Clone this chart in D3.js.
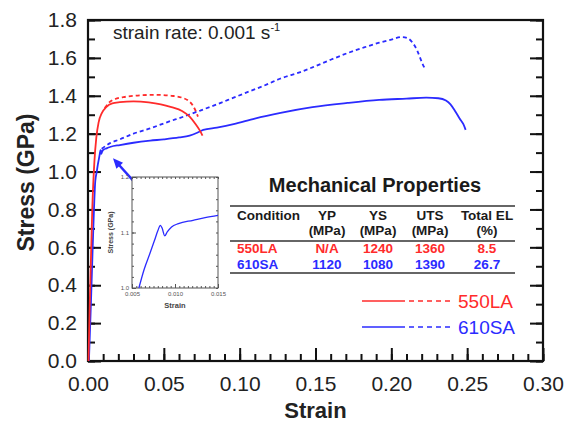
<!DOCTYPE html>
<html>
<head>
<meta charset="utf-8">
<script src="https://cdn.jsdelivr.net/npm/d3@7"></script>
<style>
  html, body { margin: 0; padding: 0; background: #fff; }
  svg text { font-family: "Liberation Sans", Arial, sans-serif; }
</style>
</head>
<body>
<div id="chart"></div>
<script>
// stress-strain curves, [strain, stress (GPa)]
const red550Solid = [
	[0.0003, 0], [0.0013, 0.35], [0.0028, 0.8], [0.0042, 1.05], [0.0055, 1.18], [0.007, 1.26],
	[0.0092, 1.31], [0.012, 1.34], [0.016, 1.36], [0.021, 1.366], [0.03, 1.37], [0.04, 1.365],
	[0.048, 1.355], [0.055, 1.34], [0.062, 1.32], [0.067, 1.29], [0.071, 1.25], [0.0735, 1.22], [0.0755, 1.19]
];
const red550Dash = [
	[0.011, 1.335], [0.014, 1.365], [0.018, 1.383], [0.025, 1.395], [0.035, 1.403], [0.045, 1.405],
	[0.055, 1.4], [0.062, 1.39], [0.066, 1.375], [0.069, 1.35], [0.071, 1.32], [0.0725, 1.29]
];
const blue610Solid = [
	[0.0006, 0], [0.002, 0.32], [0.0035, 0.7], [0.0048, 0.95], [0.0058, 1.0], [0.0064, 1.033],
	[0.0071, 1.063], [0.0076, 1.085], [0.008, 1.103], [0.0083, 1.113], [0.0085, 1.108],
	[0.0088, 1.094], [0.0091, 1.101], [0.0096, 1.11], [0.0104, 1.116], [0.0121, 1.122],
	[0.0135, 1.127], [0.015, 1.131], [0.021, 1.14], [0.03, 1.152], [0.041, 1.163], [0.05, 1.17],
	[0.06, 1.18], [0.067, 1.19], [0.072, 1.205], [0.076, 1.22], [0.085, 1.232], [0.096, 1.25],
	[0.11, 1.28], [0.127, 1.31], [0.148, 1.34], [0.171, 1.362], [0.192, 1.378], [0.21, 1.385],
	[0.223, 1.39], [0.231, 1.387], [0.236, 1.375], [0.239, 1.355], [0.242, 1.32], [0.245, 1.28],
	[0.2475, 1.25], [0.249, 1.22]
];
const blue610Dash = [
	[0.009, 1.12], [0.0145, 1.15], [0.021, 1.17], [0.03, 1.2], [0.041, 1.228], [0.052, 1.26],
	[0.063, 1.29], [0.074, 1.322], [0.085, 1.355], [0.096, 1.39], [0.107, 1.425], [0.118, 1.46],
	[0.1265, 1.49], [0.14, 1.525], [0.148, 1.55], [0.16, 1.59], [0.171, 1.625], [0.182, 1.655],
	[0.192, 1.68], [0.2, 1.697], [0.207, 1.71], [0.211, 1.703], [0.214, 1.68], [0.217, 1.64],
	[0.219, 1.6], [0.2205, 1.57], [0.222, 1.545]
];
// inset: zoom of 610SA yield point
const insetCurve = blue610Solid.filter(d => d[0] >= 0.0055 && d[0] <= 0.0151);

// main axes ticks
const xTicks = [0, 0.05, 0.1, 0.15, 0.2, 0.25, 0.3];
const yTicks = [0, 0.2, 0.4, 0.6, 0.8, 1.0, 1.2, 1.4, 1.6, 1.8];
const insetXTicks = [0.005, 0.01, 0.015];
const insetYTicks = [1.0, 1.1, 1.2];

// arrow pointing to the yield point (data coords)
const arrowFrom = [0.0345, 0.91];
const arrowTo = [0.0165, 1.07];

// table
const tableHead1 = ["Condition", "YP", "YS", "UTS", "Total EL"];
const tableHead2 = ["", "(MPa)", "(MPa)", "(MPa)", "(%)"];
const tableRows = [
	["550LA", "N/A", "1240", "1360", "8.5"],
	["610SA", "1120", "1080", "1390", "26.7"]
];
const legendNames = ["550LA", "610SA"];

(function () {
	const RED = "#ff2b2b";
	const BLUE = "#2b2bff";
	const width = 565, height = 424;
	const L = 88, R = 543, T = 20, B = 361;

	const svg = d3.select("#chart").append("svg")
		.attr("width", width).attr("height", height);

	const x = d3.scaleLinear().domain([0, 0.3]).range([L, R]);
	const y = d3.scaleLinear().domain([0, 1.8]).range([B, T]);

	// minor ticks
	const minorX = d3.range(0, 0.3001, 0.01);
	const minorY = d3.range(0, 1.8001, 0.1);
	svg.append("g").attr("transform", `translate(0,${B})`)
		.call(d3.axisBottom(x).tickValues(minorX).tickSize(-7).tickFormat(""))
		.call(g => g.select(".domain").remove());
	svg.append("g").attr("transform", `translate(${L},0)`)
		.call(d3.axisLeft(y).tickValues(minorY).tickSize(-7).tickFormat(""))
		.call(g => g.select(".domain").remove());
	svg.append("g").attr("transform", `translate(${R},0)`)
		.call(d3.axisRight(y).tickValues(minorY).tickSize(-7).tickFormat(""))
		.call(g => g.select(".domain").remove());

	// major ticks
	const xAxis = svg.append("g").attr("transform", `translate(0,${B})`)
		.call(d3.axisBottom(x).tickValues(xTicks).tickSize(-13).tickPadding(15).tickFormat(d3.format(".2f")));
	const yAxis = svg.append("g").attr("transform", `translate(${L},0)`)
		.call(d3.axisLeft(y).tickValues(yTicks).tickSize(-13).tickPadding(11).tickFormat(d3.format(".1f")));
	svg.append("g").attr("transform", `translate(${R},0)`)
		.call(d3.axisRight(y).tickValues(yTicks).tickSize(-13).tickFormat(""))
		.call(g => g.select(".domain").remove());
	[xAxis, yAxis].forEach(a => {
		a.select(".domain").remove();
		a.selectAll("text").style("font-size", "21px").style("fill", "#222");
	});
	svg.selectAll(".tick line").attr("stroke", "#111").attr("stroke-width", 2);

	// frame
	svg.append("rect").attr("x", L).attr("y", T).attr("width", R - L).attr("height", B - T)
		.attr("fill", "none").attr("stroke", "#111").attr("stroke-width", 2.2);

	// axis titles
	svg.append("text").attr("x", (L + R) / 2).attr("y", 418).attr("text-anchor", "middle")
		.style("font-size", "22px").style("font-weight", 700).style("fill", "#222").text("Strain");
	svg.append("text").attr("transform", `translate(34,${(T + B) / 2 - 8}) rotate(-90)`)
		.attr("text-anchor", "middle")
		.style("font-size", "23px").style("font-weight", 700).style("fill", "#222").text("Stress (GPa)");

	// strain rate note
	const note = svg.append("text").attr("x", 113).attr("y", 39)
		.style("font-size", "19px").style("fill", "#222");
	note.append("tspan").text("strain rate: 0.001 s");
	note.append("tspan").attr("dy", -8).style("font-size", "11px").text("-1");

	// curves
	const line = d3.line().x(d => x(d[0])).y(d => y(d[1])).curve(d3.curveMonotoneX);
	const curves = [
		{ data: red550Dash, color: RED, dash: "4,3" },
		{ data: blue610Dash, color: BLUE, dash: "4,3" },
		{ data: blue610Solid, color: BLUE, dash: null },
		{ data: red550Solid, color: RED, dash: null }
	];
	curves.forEach(c => {
		svg.append("path").datum(c.data).attr("d", line)
			.attr("fill", "none").attr("stroke", c.color).attr("stroke-width", 1.8)
			.attr("stroke-dasharray", c.dash);
	});

	// arrow
	const ax0 = x(arrowFrom[0]), ay0 = y(arrowFrom[1]);
	const ax1 = x(arrowTo[0]), ay1 = y(arrowTo[1]);
	const ang = Math.atan2(ay1 - ay0, ax1 - ax0);
	const hl = 10, hw = 4.5;
	svg.append("line").attr("x1", ax0).attr("y1", ay0)
		.attr("x2", ax1 - Math.cos(ang) * hl * 0.8).attr("y2", ay1 - Math.sin(ang) * hl * 0.8)
		.attr("stroke", BLUE).attr("stroke-width", 2.5);
	const bx = ax1 - Math.cos(ang) * hl, by = ay1 - Math.sin(ang) * hl;
	svg.append("path")
		.attr("d", `M${ax1},${ay1}L${bx - Math.sin(ang) * hw},${by + Math.cos(ang) * hw}L${bx + Math.sin(ang) * hw},${by - Math.cos(ang) * hw}Z`)
		.attr("fill", BLUE);

	// inset
	const iL = 132, iR = 218, iT = 177, iB = 288;
	const ix = d3.scaleLinear().domain([0.005, 0.015]).range([iL, iR]);
	const iy = d3.scaleLinear().domain([1.0, 1.2]).range([iB, iT]);
	const inset = svg.append("g");
	inset.append("rect").attr("x", iL).attr("y", iT).attr("width", iR - iL).attr("height", iB - iT)
		.attr("fill", "#fff").attr("stroke", "#555").attr("stroke-width", 1);
	const iMinX = d3.range(0.005, 0.01501, 0.0005);
	const iMinY = d3.range(1.0, 1.2001, 0.02);
	const smallAxis = (g, axis) => g.call(axis).call(s => s.select(".domain").remove())
		.call(s => s.selectAll("line").attr("stroke", "#555"));
	smallAxis(inset.append("g").attr("transform", `translate(0,${iB})`),
		d3.axisBottom(ix).tickValues(iMinX).tickSize(-2).tickFormat(""));
	smallAxis(inset.append("g").attr("transform", `translate(0,${iT})`),
		d3.axisTop(ix).tickValues(iMinX).tickSize(-2).tickFormat(""));
	smallAxis(inset.append("g").attr("transform", `translate(${iL},0)`),
		d3.axisLeft(iy).tickValues(iMinY).tickSize(-2).tickFormat(""));
	smallAxis(inset.append("g").attr("transform", `translate(${iR},0)`),
		d3.axisRight(iy).tickValues(iMinY).tickSize(-2).tickFormat(""));
	const ixAxis = inset.append("g").attr("transform", `translate(0,${iB})`)
		.call(d3.axisBottom(ix).tickValues(insetXTicks).tickSize(-4).tickPadding(4).tickFormat(d3.format(".3f")));
	const iyAxis = inset.append("g").attr("transform", `translate(${iL},0)`)
		.call(d3.axisLeft(iy).tickValues(insetYTicks).tickSize(-4).tickPadding(3).tickFormat(d3.format(".1f")));
	[ixAxis, iyAxis].forEach(a => {
		a.select(".domain").remove();
		a.selectAll("line").attr("stroke", "#555");
		a.selectAll("text").style("font-size", "6px").style("fill", "#555");
	});
	inset.append("text").attr("x", (iL + iR) / 2).attr("y", 308).attr("text-anchor", "middle")
		.style("font-size", "7.5px").style("font-weight", 700).style("fill", "#444").text("Strain");
	inset.append("text").attr("transform", `translate(113,${(iT + iB) / 2}) rotate(-90)`)
		.attr("text-anchor", "middle")
		.style("font-size", "7px").style("font-weight", 700).style("fill", "#444").text("Stress (GPa)");
	const iline = d3.line().x(d => ix(d[0])).y(d => iy(d[1])).curve(d3.curveMonotoneX);
	inset.append("path").datum(insetCurve).attr("d", iline)
		.attr("fill", "none").attr("stroke", BLUE).attr("stroke-width", 1.3);

	// table
	const colX = [237, 327, 378, 430, 487];
	const tbl = svg.append("g").style("font-weight", 700);
	tbl.append("text").attr("x", 375).attr("y", 192).attr("text-anchor", "middle")
		.style("font-size", "20px").style("fill", "#1a1a1a").text("Mechanical Properties");
	[206, 241, 273].forEach(ly => {
		tbl.append("line").attr("x1", 230).attr("x2", 515).attr("y1", ly).attr("y2", ly)
			.attr("stroke", "#333").attr("stroke-width", 1.3);
	});
	const cell = (txt, i, yy, fill) => tbl.append("text")
		.attr("x", colX[i]).attr("y", yy)
		.attr("text-anchor", i === 0 ? "start" : "middle")
		.style("font-size", "13.5px").style("fill", fill).text(txt);
	tableHead1.forEach((t, i) => cell(t, i, 220, "#1a1a1a"));
	tableHead2.forEach((t, i) => cell(t, i, 235, "#1a1a1a"));
	tableRows[0].forEach((t, i) => cell(t, i, 253, RED));
	tableRows[1].forEach((t, i) => cell(t, i, 269, BLUE));

	// legend
	const legColors = [RED, BLUE];
	legendNames.forEach((name, i) => {
		const ly = 301 + i * 26;
		svg.append("line").attr("x1", 362).attr("x2", 405).attr("y1", ly).attr("y2", ly)
			.attr("stroke", legColors[i]).attr("stroke-width", 1.6);
		svg.append("line").attr("x1", 409).attr("x2", 451).attr("y1", ly).attr("y2", ly)
			.attr("stroke", legColors[i]).attr("stroke-width", 1.6).attr("stroke-dasharray", "5,4");
		svg.append("text").attr("x", 458).attr("y", ly + 7)
			.style("font-size", "19px").style("fill", legColors[i]).text(name);
	});
})();
</script>
</body>
</html>
